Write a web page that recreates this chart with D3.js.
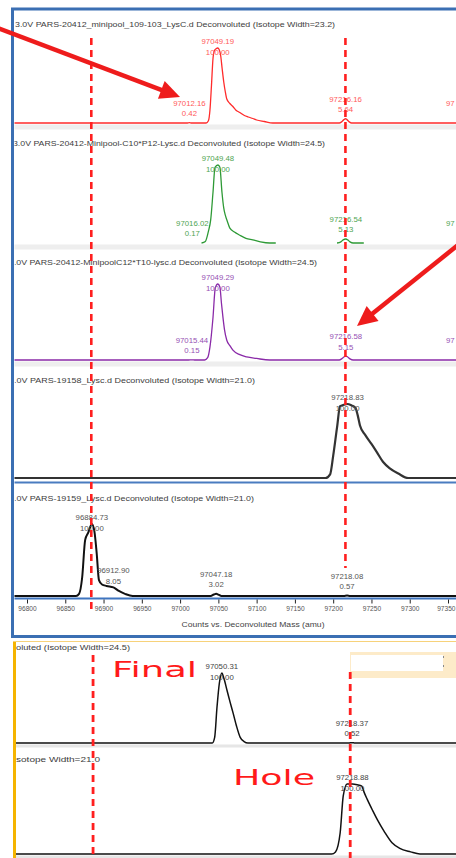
<!DOCTYPE html>
<html><head><meta charset="utf-8">
<script src="https://cdn.jsdelivr.net/npm/d3@7"></script>
<style>
html,body{margin:0;padding:0;background:#fff;overflow:hidden}
svg{display:block;font-family:Arial,"Liberation Sans",sans-serif}
</style></head><body>
<svg id="c" width="456" height="858"></svg>
<script>
// ---------- data ----------
const axisTicks = [96800, 96850, 96900, 96950, 97000, 97050, 97100, 97150, 97200, 97250, 97300, 97350];
const markerMasses = [96884, 97216];

const headers = [
  "3.0V PARS-20412_minipool_109-103_LysC.d  Deconvoluted (Isotope Width=23.2)",
  "3.0V PARS-20412-Minipool-C10*P12-Lysc.d  Deconvoluted (Isotope Width=24.5)",
  "3.0V PARS-20412-MinipoolC12*T10-lysc.d  Deconvoluted (Isotope Width=24.5)",
  "3.0V PARS-19158_Lysc.d  Deconvoluted (Isotope Width=21.0)",
  "3.0V PARS-19159_Lysc.d  Deconvoluted (Isotope Width=21.0)",
  "oluted (Isotope Width=24.5)",
  "sotope Width=21.0"
];
const axisTitle = "Counts vs. Deconvoluted Mass (amu)";
const notes = ["Final", "Hole"];

// traces: [mass, relative intensity %]; null = gap
const traceRed = [[96780,0],[97009,0],[97012.16,0.42],[97015,0],[97034,0],[97037,3],[97039,17],[97041,50],[97043,86],[97045,97],[97047,99],[97049.19,100],[97051,98],[97053,90],[97055,72],[97057,55],[97059,42],[97061,32],[97065,26],[97069,22],[97073,17],[97078,14],[97084,10],[97089,8],[97095,6],[97100,4],[97110,2],[97121,0],[97208,0],[97211,1.5],[97214,4.5],[97216.16,5.64],[97218,4.5],[97221,1.5],[97224,0],[97400,0]];
const traceGreen = [[97028,0],[97033,2],[97037,15],[97040,30],[97043,65],[97045.6,97],[97049.48,100],[97052,97],[97054.7,65],[97057,45],[97059,36],[97062,27],[97065,19],[97071,14],[97078,10],[97086,6],[97095,4],[97105,1.5],[97117,0],[97125,0],null,[97205,0],[97210,1.5],[97213,4],[97216.54,5.13],[97219,4],[97222,1.5],[97226,0],[97240,0]];
const tracePurple = [[96780,0],[97011,0],[97015.44,0.15],[97019,0],[97032,0],[97036,3],[97039,17],[97043,56],[97046,95],[97049.29,100],[97052,96],[97054,75],[97056,56],[97058,40],[97061,26],[97065,19],[97069,13],[97078,7],[97087,4],[97100,2],[97117,0],[97208,0],[97211,1.5],[97214,4],[97216.58,5.15],[97219,4],[97222,1.5],[97226,0],[97400,0]];
const traceP4 = [[96780,0],[97190,0],[97196,5],[97200,30],[97205,68],[97209,97],[97214,99],[97218.83,100],[97224,98],[97229,95],[97232,85],[97235,71],[97242,58],[97250,46],[97257,35],[97265,22],[97274,13],[97285,6],[97298,0],[97400,0]];
const traceP5 = [[96780,0],[96864,0],[96868,3],[96872,25],[96876,78],[96880,88],[96884.73,100],[96888,90],[96891,60],[96894,22],[96898,16],[96904,14],[96912.9,12],[96920,7],[96928,3],[96938,0],[97040,0],[97044,2],[97047.18,3.02],[97050,2],[97054,0],[97214,0],[97218.08,0.57],[97222,0],[97400,0]];
const traceFinal = [[96780,0],[97038,0],[97041,8],[97044,51],[97047,85],[97050.31,100],[97053,92],[97057,75],[97061,58],[97065,42],[97069,25],[97074,8],[97079,2],[97084,0],[97214,0],[97218.37,0.52],[97222,0],[97400,0]];
const traceHole = [[96780,0],[97192,0],[97197,3],[97203,30],[97207,83],[97212,100],[97218.88,100],[97225,99],[97231,97],[97234,88],[97238,78],[97245,62],[97251,49],[97260,32],[97270,16],[97280,8],[97294,3],[97306,0],[97400,0]];

// peak labels: [mass, relative intensity %]
const labelsRed = [[97012.16,0.42],[97049.19,100.00],[97216.16,5.64]];
const labelsGreen = [[97016.02,0.17],[97049.48,100.00],[97216.54,5.13]];
const labelsPurple = [[97015.44,0.15],[97049.29,100.00],[97216.58,5.15]];
const labelsP4 = [[97218.83,100.00]];
const labelsP5 = [[96884.73,100.00],[96912.90,8.05],[97047.18,3.02],[97218.08,0.57]];
const labelsFinal = [[97050.31,100.00],[97218.37,0.52]];
const labelsHole = [[97218.88,100.00]];
// partly visible labels at the right edge (only their start shows)
const edgeLabels = ["97", "97", "97"];

// ---------- drawing ----------
const svg = d3.select("#c");
const xTop = d3.scaleLinear().domain([96800, 97350]).range([27, 448]);
const xBot = d3.scaleLinear().domain([96800, 97350]).range([28, 454]);

const defs = svg.append("defs");
defs.append("clipPath").attr("id","clipTop").append("rect").attr("x",14.5).attr("y",10).attr("width",450).attr("height",626);
defs.append("clipPath").attr("id","clipBot").append("rect").attr("x",15.5).attr("y",641).attr("width",450).attr("height",220);

const panels = [
  {data:traceRed, labels:labelsRed, head:headers[0], hx:15, hw:320, hy:27, base:123, top:48, x:xTop, clip:"clipTop", color:"#ff2b2b", lcolor:"#ff5a5a", band:true, edge:0},
  {data:traceGreen, labels:labelsGreen, head:headers[1], hx:13, hw:312, hy:146, base:243, top:165, x:xTop, clip:"clipTop", color:"#2e9a36", lcolor:"#4fa552", band:true, edge:1},
  {data:tracePurple, labels:labelsPurple, head:headers[2], hx:9, hw:308, hy:265, base:360, top:284, x:xTop, clip:"clipTop", color:"#8a2aa8", lcolor:"#9650b4", band:true, edge:2},
  {data:traceP4, labels:labelsP4, head:headers[3], hx:9, hw:246, hy:383, base:478, top:404, x:xTop, clip:"clipTop", color:"#333", lcolor:"#555", width:2.2},
  {data:traceP5, labels:labelsP5, head:headers[4], hx:9, hw:245, hy:501, base:596, top:524, x:xTop, clip:"clipTop", color:"#111", lcolor:"#555", width:2},
  {data:traceFinal, labels:labelsFinal, head:headers[5], hx:16, hw:114, hy:650, base:743, top:673, x:xBot, clip:"clipBot", color:"#111", lcolor:"#444", width:1.5},
  {data:traceHole, labels:labelsHole, head:headers[6], hx:16, hw:84, hy:762, base:854, top:784, x:xBot, clip:"clipBot", color:"#111", lcolor:"#444", width:1.5}
];

const gTop = svg.append("g").attr("clip-path","url(#clipTop)");
const gBot = svg.append("g").attr("clip-path","url(#clipBot)");
panels.forEach(p => {
  if (p.band) gTop.append("rect").attr("x",14).attr("y",p.base+1.5).attr("width",450).attr("height",5).attr("fill","#eeeeee");
});
gTop.append("line").attr("x1",14).attr("x2",460).attr("y1",482.5).attr("y2",482.5).attr("stroke","#4a7cc0").attr("stroke-width",2);
gTop.append("line").attr("x1",14).attr("x2",460).attr("y1",598.5).attr("y2",598.5).attr("stroke","#3f75bf").attr("stroke-width",2);
gBot.append("rect").attr("x",15).attr("y",744.5).attr("width",450).attr("height",3).attr("fill","#e6e6e6");
gBot.append("rect").attr("x",15).attr("y",855.5).attr("width",450).attr("height",3).attr("fill","#e6e6e6");
gBot.append("rect").attr("x",350).attr("y",652).attr("width",110).attr("height",26).attr("fill","#fdebc9");
gBot.append("rect").attr("x",351).attr("y",655).attr("width",92).attr("height",16).attr("fill","#ffffff");
gBot.append("rect").attr("x",443).attr("y",656).attr("width",1).attr("height",2).attr("fill","#888");
gBot.append("rect").attr("x",443).attr("y",665).attr("width",1).attr("height",2).attr("fill","#888");

panels.forEach(p => {
  const y = d3.scaleLinear().domain([0,100]).range([p.base, p.top]);
  const g = p.clip === "clipTop" ? gTop : gBot;
  g.append("text").attr("x",p.hx).attr("y",p.hy).attr("font-size",7.6).attr("fill","#3c3c3c")
    .attr("textLength",p.hw).attr("lengthAdjust","spacingAndGlyphs").text(p.head);
  const line = d3.line().defined(d => d).x(d => p.x(d[0])).y(d => y(d[1])).curve(d3.curveMonotoneX);
  g.append("path").attr("d", line(p.data)).attr("fill","none").attr("stroke",p.color)
    .attr("stroke-width", p.width || 1.3).attr("stroke-linejoin","round");
  p.labels.forEach(l => {
    const y1 = Math.max(y(l[1]) - 17, p.top - 4);
    const cx = p.x(l[0]);
    g.append("text").attr("x",cx).attr("y",y1).attr("text-anchor","middle").attr("font-size",7.8)
      .attr("fill",p.lcolor).text(l[0].toFixed(2));
    g.append("text").attr("x",cx).attr("y",y1+10.5).attr("text-anchor","middle").attr("font-size",7.8)
      .attr("fill",p.lcolor).text(l[1].toFixed(2));
  });
  if (p.edge !== undefined) {
    g.append("text").attr("x",446).attr("y",y(0) - 17).attr("font-size",7.8)
      .attr("fill",p.lcolor).text(edgeLabels[p.edge]);
  }
});

// x axis (top section)
const axis = d3.axisBottom(xTop).tickValues(axisTicks).tickSize(4).tickPadding(3).tickFormat(d3.format("d"));
const ga = gTop.append("g").attr("transform","translate(0,599.5)").call(axis);
ga.select(".domain").remove();
ga.selectAll(".tick line").attr("stroke","#222");
ga.selectAll(".tick text").attr("font-size",6.6).attr("fill","#555").attr("font-family","Arial, 'Liberation Sans', sans-serif");
ga.selectAll(".tick").filter(d => d === axisTicks[axisTicks.length-1]).select("text")
  .attr("text-anchor","end").attr("x",7);
gTop.append("text").attr("x",253).attr("y",627).attr("text-anchor","middle").attr("font-size",8)
  .attr("fill","#444").attr("textLength",143).attr("lengthAdjust","spacingAndGlyphs").text(axisTitle);

// red dashed marker lines
const dashTop = [[38,612],[38,568]];
const dashBot = [[655,858],[672,858]];
markerMasses.forEach((m,i) => {
  svg.append("line").attr("x1",xTop(m)).attr("x2",xTop(m)).attr("y1",dashTop[i][0]).attr("y2",dashTop[i][1])
    .attr("stroke","#ff1f1f").attr("stroke-width",2.6).attr("stroke-dasharray","7,5");
  svg.append("line").attr("x1",xBot(m)).attr("x2",xBot(m)).attr("y1",dashBot[i][0]).attr("y2",dashBot[i][1])
    .attr("stroke","#ff1f1f").attr("stroke-width",2.8).attr("stroke-dasharray","7,5");
});

// notes
svg.append("text").attr("x",112).attr("y",677).attr("font-size",22).attr("fill","#ff1a1a")
  .attr("font-family","'DejaVu Sans', Verdana, sans-serif")
  .attr("textLength",85).attr("lengthAdjust","spacingAndGlyphs").text(notes[0]);
svg.append("text").attr("x",233).attr("y",785).attr("font-size",22).attr("fill","#ff1a1a")
  .attr("font-family","'DejaVu Sans', Verdana, sans-serif")
  .attr("textLength",82).attr("lengthAdjust","spacingAndGlyphs").text(notes[1]);

// frames
svg.append("rect").attr("x",12.5).attr("y",9).attr("width",460).attr("height",627.5)
  .attr("fill","none").attr("stroke","#3b6fb3").attr("stroke-width",3);
svg.append("rect").attr("x",13).attr("y",641).attr("width",3).attr("height",217).attr("fill","#f5b400");
svg.append("rect").attr("x",13).attr("y",641).attr("width",450).attr("height",1).attr("fill","#f7d27a");

// arrows
function arrow(x0,y0,x1,y1){
  const dx=x1-x0, dy=y1-y0, L=Math.hypot(dx,dy), ux=dx/L, uy=dy/L;
  const hl=20, hw=9.5;
  const bx=x1-ux*hl, by=y1-uy*hl;
  svg.append("line").attr("x1",x0).attr("y1",y0).attr("x2",bx+ux*2).attr("y2",by+uy*2)
    .attr("stroke","#ee1c1c").attr("stroke-width",4.5);
  svg.append("path").attr("d",`M${x1},${y1}L${bx-uy*hw},${by+ux*hw}L${bx+uy*hw},${by-ux*hw}Z`).attr("fill","#ee1c1c");
}
arrow(-10,25,180,97);
arrow(478,229,357,326);
</script>
</body></html>
